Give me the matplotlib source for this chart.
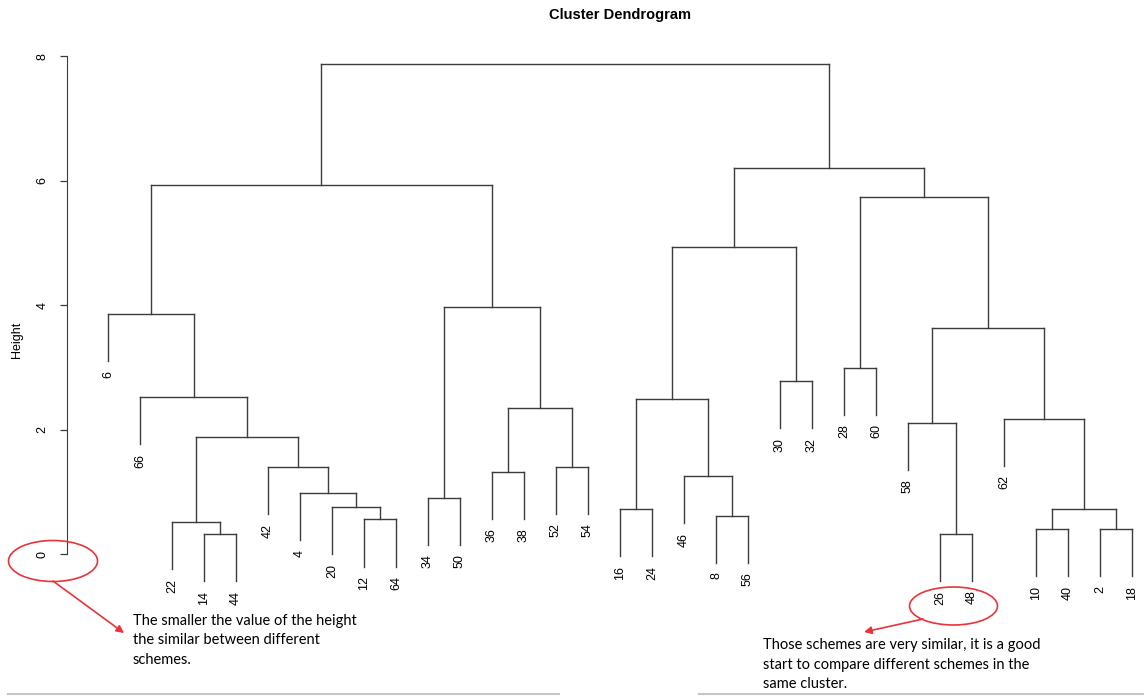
import matplotlib
matplotlib.use("Agg")
import matplotlib.pyplot as plt
from matplotlib.patches import Ellipse

# hclust-style merge table: negative = leaf label, positive = earlier merge (1-based)
merge_a = [-14, -26, -10, -2, -22, -12, -8, -16, 3, -20, -34, -4, -46, -36, -42, -52,
           5, -58, -62, 14, 8, -66, -30, -28, 18, -6, 11, 21, 24, 26, 28, 30]
merge_b = [-44, -48, -40, -18, 1, -64, -56, -24, 4, 6, -50, 10, 7, -38, 12, -54,
           15, 2, 9, 16, 13, 17, -32, -60, 19, 22, 20, 23, 25, 27, 29, 31]
merge_h = [0.32, 0.33, 0.40, 0.40, 0.52, 0.56, 0.62, 0.73, 0.73, 0.76, 0.91, 0.98,
           1.26, 1.33, 1.40, 1.41, 1.89, 2.11, 2.18, 2.35, 2.49, 2.52, 2.78, 3.00,
           3.63, 3.86, 3.97, 4.94, 5.74, 5.94, 6.21, 7.88]

y_ticks = [0, 2, 4, 6, 8]

note_left = "The smaller the value of the height\nthe similar between different\nschemes."
note_right = "Those schemes are very similar, it is a good\nstart to compare different schemes in the\nsame cluster."

W, H = 1144, 698
line_col = "#3c3c3c"
red = "#e8343a"
plt.rcParams["font.family"] = ["Liberation Sans", "DejaVu Sans"]

fig = plt.figure(figsize=(W / 100, H / 100), dpi=100)
ax = fig.add_axes([66.5 / W, 1 - 620 / H, 1 - 66.5 / W, (620 - 30) / H])

hang = 0.1 * (max(merge_h) - min(merge_h))
counter = [0]


def draw(node):
    # returns (x, height) of a node, drawing its subtree
    if node < 0:
        counter[0] += 1
        return counter[0], None
    i = node - 1
    h = merge_h[i]
    xs = []
    for child in (merge_a[i], merge_b[i]):
        cx, ch = draw(child)
        if ch is None:
            ch = h - hang
            ax.annotate(str(-child), (cx, ch), xytext=(0, -7), textcoords="offset points",
                        rotation=90, ha="center", va="top", fontsize=9)
        ax.plot([cx, cx], [ch, h], color=line_col, lw=1)
        xs.append(cx)
    ax.plot(xs, [h, h], color=line_col, lw=1)
    return sum(xs) / 2, h


draw(len(merge_h))

ax.set_xlim(-0.297, 1 + (W - 108) / 32)
ax.set_ylim((554.3 - 620) / 62.25, (554.3 - 30) / 62.25)
for s in ["top", "right", "bottom"]:
    ax.spines[s].set_visible(False)
ax.spines["left"].set_bounds(0, 8)
ax.spines["left"].set_color(line_col)
ax.set_xticks([])
ax.set_yticks(y_ticks)
ax.tick_params(axis="y", length=5, width=0.9, color=line_col, pad=8, labelsize=9,
               labelrotation=90)
for t in ax.get_yticklabels():
    t.set_va("center")

fig.text(620 / W, 1 - 15 / H, "Cluster Dendrogram", ha="center", va="center",
         fontsize=10.5, fontweight="bold")
fig.text(17 / W, 1 - 340 / H, "Height", rotation=90, ha="center", va="center", fontsize=9)

# annotation layer in pixel coordinates
ann = fig.add_axes([0, 0, 1, 1])
ann.set_xlim(0, W)
ann.set_ylim(H, 0)
ann.axis("off")

ann.add_patch(Ellipse((53, 561), 89, 41, fill=False, edgecolor=red, lw=1.2))
ann.add_patch(Ellipse((953.5, 606), 88, 38, fill=False, edgecolor=red, lw=1.2))
ann.annotate("", xy=(124, 633), xytext=(53, 581),
             arrowprops=dict(arrowstyle="-|>", color=red, lw=1.2, mutation_scale=11,
                             shrinkA=0, shrinkB=0))
ann.annotate("", xy=(864, 632), xytext=(923, 619),
             arrowprops=dict(arrowstyle="-|>", color=red, lw=1.2, mutation_scale=11,
                             shrinkA=0, shrinkB=0))

ann.text(133, 614, note_left, ha="left", va="top", fontsize=10.5, family="Lato",
         linespacing=1.5)
ann.text(763, 638, note_right, ha="left", va="top", fontsize=10.5, family="Lato",
         linespacing=1.5)

ann.plot([8, 559], [694, 694], color="#c4c4c4", lw=1.5)
ann.plot([699, W], [694, 694], color="#c4c4c4", lw=1.5)

fig.savefig("out.png", dpi=100)
